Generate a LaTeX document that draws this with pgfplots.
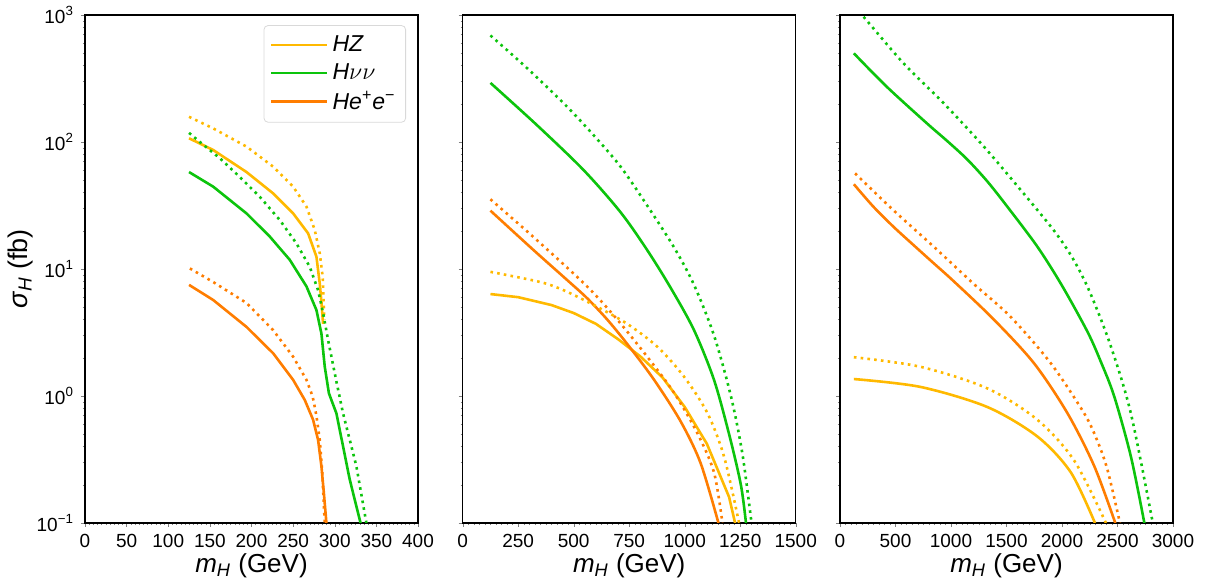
\documentclass[border=0pt]{standalone}
\usepackage{fontspec}
\setmainfont{Liberation Sans}
\usepackage{pgfplots}
\pgfplotsset{compat=1.18}
\definecolor{cHZ}{RGB}{255,185,0}
\definecolor{cHnn}{RGB}{12,196,12}
\definecolor{cHee}{RGB}{255,125,0}
\tikzset{
  sol/.style={line width=1.3pt, solid, line join=round},
  dot/.style={line width=1.3pt, dash pattern=on 1.3pt off 2.1pt, line cap=butt},
}
\pgfplotsset{
  every axis/.append style={
    scale only axis, width=166.5pt, height=254pt,
    ymin=0.1, ymax=1000,
    ytick={0.1,1,10,100,1000},
    minor ytick={0.2,0.3,0.4,0.5,0.6,0.7,0.8,0.9,2,3,4,5,6,7,8,9,20,30,40,50,60,70,80,90,200,300,400,500,600,700,800,900},
    minor x tick num=9,
    tick align=outside, xtick pos=left, ytick pos=left,
    major tick length=2pt, minor tick length=1.1pt,
    axis line style={line width=0.6pt},
    tick label style={font=\fontsize{9.5}{11}\selectfont},
    xticklabel style={/pgf/number format/.cd, assume math mode=true, 1000 sep={}},
    xlabel={\textit{m}\textsubscript{\textit{H}} (GeV)},
    label style={font=\fontsize{13}{15}\selectfont},
    xlabel style={yshift=4pt},
  },
}
\begin{document}
\begin{tikzpicture}
\useasboundingbox (0,0) rectangle (603pt,289pt);
% ---------------- Panel 1: 380 GeV
\begin{semilogyaxis}[at={(42.5pt,27.5pt)}, anchor=south west,
  xmin=0, xmax=400, xtick={0,50,...,400},
  yticklabels={10\textsuperscript{−1},10\textsuperscript{0},10\textsuperscript{1},10\textsuperscript{2},10\textsuperscript{3}},
  ylabel={\textit{σ}\textsubscript{\textit{H}} (fb)},
  ylabel style={yshift=-5pt, font=\fontsize{13.5}{15}\selectfont},
  legend style={at={(0.964,0.980)}, anchor=north east, draw=black!15, rounded corners=2pt,
    font=\fontsize{11.5}{13}\selectfont, row sep=0.5pt, inner xsep=3pt, inner ysep=3pt},
  legend cell align=left,
  legend image code/.code={\draw[#1] (0pt,0pt) -- (22pt,0pt); \path (0pt,0pt) -- (28pt,0pt);},
]
\addplot[sol, cHZ] coordinates {(125,107) (154,86.5) (194,58) (226,39.4) (250,27.4) (268,19.1) (278,12.5) (282,7.7) (284,5.5) (286,3.7)};
\addlegendentry{\textit{HZ}}
\addplot[sol, cHnn] coordinates {(125,58) (154,44.5) (194,27.4) (222,18) (246,11.8) (266,7.3) (278,4.75) (284,3.1) (288,1.7) (293,1.05) (302,0.73) (318,0.22) (331,0.1)};
\addlegendentry{\textit{H}$\nu\nu$}
\addplot[sol, cHee] coordinates {(125,7.5) (154,5.7) (194,3.5) (226,2.17) (250,1.34) (264,0.93) (274,0.65) (280,0.45) (284,0.28) (287,0.17) (290,0.1)};
\addlegendentry{\textit{He}\textsuperscript{+}\textit{e}\textsuperscript{−}}
\addplot[dot, cHZ, forget plot] coordinates {(125,158) (154,128) (194,92) (226,64) (250,44.5) (266,31) (276,20.3) (282,13.3) (285.5,8.7) (287,5.0) (287.5,4.0)};
\addplot[dot, cHnn, forget plot] coordinates {(125,118) (138,100) (162,74.5) (186,53) (210,37) (234,24.3) (254,15.9) (270,10.4) (280,6.8) (286,4.5) (292,2.76) (302,1.3) (310,0.73) (326,0.28) (338,0.1)};
\addplot[dot, cHee, forget plot] coordinates {(126,10.1) (154,7.9) (194,5.4) (226,3.3) (250,2.04) (266,1.34) (273.5,0.99) (278,0.7) (282,0.45) (285,0.25) (288,0.1)};
\end{semilogyaxis}
% ---------------- Panel 2: 1.5 TeV
\begin{semilogyaxis}[at={(231.35pt,27.5pt)}, anchor=south west,
  xmin=0, xmax=1500, xtick={0,250,...,1500},
  yticklabels={},
]
\addplot[sol, cHZ] coordinates {(125,6.35) (250,6.0) (400,5.2) (500,4.5) (600,3.7) (700,2.8) (800,2.05) (900,1.4) (1000,0.82) (1100,0.42) (1200,0.16) (1227,0.1)};
\addplot[sol, cHnn, smooth] coordinates {(125,292) (334,136) (545,60) (711,28) (831,14.1) (937,7.1) (1042,3.3) (1132,1.34) (1200,0.5) (1253,0.2) (1276,0.1)};
\addplot[sol, cHee, smooth] coordinates {(125,28.8) (319,14.1) (470,8.2) (560,5.9) (651,4.0) (741,2.57) (861,1.35) (982,0.63) (1072,0.295) (1152,0.1)};
\addplot[dot, cHZ, smooth] coordinates {(125,9.5) (349,7.9) (455,6.8) (600,5.1) (741,3.7) (877,2.44) (997,1.42) (1103,0.73) (1178,0.33) (1245,0.1)};
\addplot[dot, cHnn, smooth] coordinates {(125,690) (289,383) (462,196) (590,113) (711,64) (831,31.6) (952,14.8) (1042,7.5) (1132,3.0) (1208,1.0) (1260,0.35) (1301,0.1)};
\addplot[dot, cHee, smooth] coordinates {(125,35.4) (334,16.9) (560,7.3) (696,4.0) (831,2.04) (952,1.06) (1057,0.51) (1132,0.25) (1170,0.1)};
\end{semilogyaxis}
% ---------------- Panel 3: 3 TeV
\begin{semilogyaxis}[at={(420pt,27.5pt)}, anchor=south west,
  xmin=0, xmax=3000, xtick={0,500,...,3000},
  yticklabels={},
]
\addplot[sol, cHZ, smooth] coordinates {(125,1.36) (723,1.18) (1326,0.82) (1778,0.48) (2080,0.25) (2297,0.1)};
\addplot[sol, cHnn, smooth] coordinates {(125,499) (422,272) (784,140) (965,102) (1146,73) (1327,49) (1507,31) (1778,15) (2000,7.4) (2230,3.2) (2350,1.86) (2471,0.99) (2622,0.33) (2742,0.1)};
\addplot[sol, cHee, smooth] coordinates {(125,46.5) (300,31) (482,21.5) (660,15.5) (844,11.1) (1025,8.0) (1386,4.0) (1748,1.81) (2050,0.73) (2291,0.28) (2480,0.1)};
\addplot[dot, cHZ, smooth] coordinates {(125,2.02) (723,1.70) (1326,1.15) (1778,0.65) (2110,0.31) (2396,0.1)};
\addplot[dot, cHnn, smooth] coordinates {(125,1150) (211,970) (572,417) (934,202) (1296,92) (1627,42) (1929,20) (2100,12) (2250,6.6) (2441,2.45) (2622,0.72) (2818,0.1)};
\addplot[dot, cHee, smooth] coordinates {(136,56.6) (482,29) (844,15) (1200,7.7) (1537,4.2) (1899,1.81) (2200,0.73) (2320,0.44) (2411,0.26) (2522,0.1)};
\end{semilogyaxis}
\end{tikzpicture}
\end{document}
